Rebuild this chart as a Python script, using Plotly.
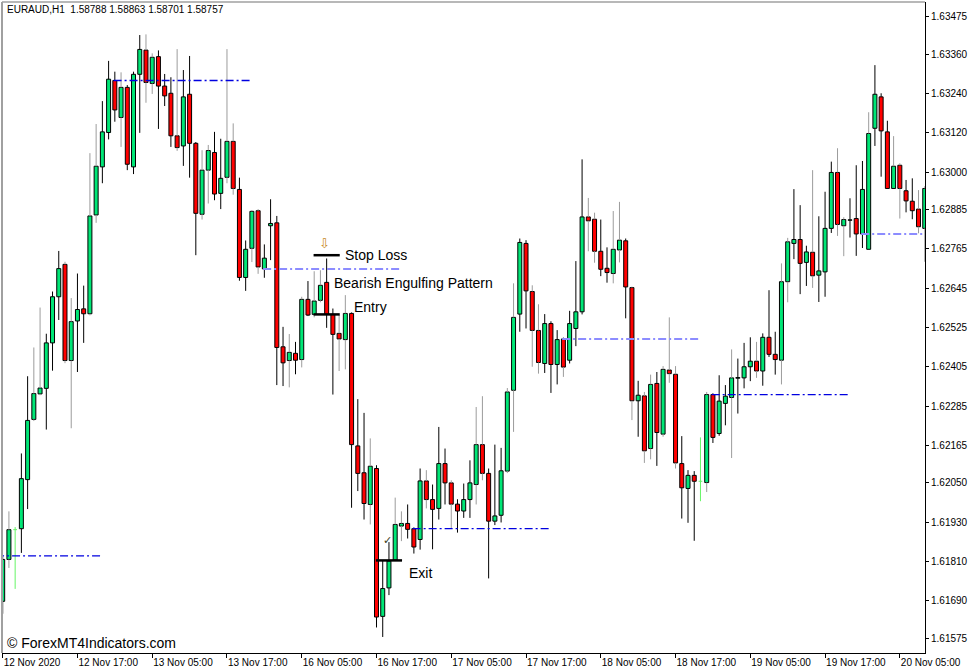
import plotly.graph_objects as go

# ---------------- data (EURAUD H1) ----------------
opens = [1.61688, 1.61816, 1.61907, 1.61910, 1.62060, 1.62244, 1.62322, 1.62339, 1.62478, 1.62619,
         1.62718, 1.62424, 1.62545, 1.62582, 1.62567, 1.62869, 1.63016, 1.63121, 1.63280, 1.63167,
         1.63259, 1.63016, 1.63299, 1.63373, 1.63271, 1.63353, 1.63263, 1.63241, 1.63111, 1.63080,
         1.63238, 1.63088, 1.62871, 1.63006, 1.63060, 1.62935, 1.62984, 1.63094, 1.62947, 1.62678,
         1.62767, 1.62882, 1.62704, 1.62836, 1.62845, 1.62466, 1.62424, 1.62446, 1.62427, 1.62611,
         1.62565, 1.62608, 1.62663, 1.62565, 1.62507, 1.62488, 1.62568, 1.62163, 1.62081, 1.61984,
         1.62094, 1.61642, 1.61729, 1.61814, 1.61918, 1.61926, 1.61910, 1.61877, 1.62056, 1.61999,
         1.61972, 1.62109, 1.62050, 1.61985, 1.61964, 1.61999, 1.62045, 1.62167, 1.62079, 1.61933,
         1.61951, 1.62086, 1.62333, 1.62566, 1.62782, 1.62635, 1.62516, 1.62415, 1.62537, 1.62412,
         1.62490, 1.62425, 1.62522, 1.62573, 1.62863, 1.62856, 1.62758, 1.62706, 1.62690, 1.62762,
         1.62790, 1.62647, 1.62301, 1.62316, 1.62155, 1.62354, 1.62199, 1.62395, 1.62382, 1.62109,
         1.62033, 1.62073, 1.62055, 1.62051, 1.62320, 1.62201, 1.62293, 1.62311, 1.62370, 1.62371,
         1.62405, 1.62422, 1.62392, 1.62495, 1.62443, 1.62425, 1.62665, 1.62782, 1.62794, 1.62724,
         1.62755, 1.62685, 1.62695, 1.62828, 1.62999, 1.62836, 1.62853, 1.62858, 1.62811, 1.62764,
         1.63134, 1.63230, 1.63123, 1.62950, 1.63021, 1.62943, 1.62911, 1.62887, 1.62828]

highs = [1.61823, 1.61963, 1.61915, 1.62140, 1.62376, 1.62464, 1.62586, 1.62506, 1.62635, 1.62759,
         1.62726, 1.62615, 1.62690, 1.62653, 1.63058, 1.63147, 1.63217, 1.63340, 1.63307, 1.63305,
         1.63266, 1.63307, 1.63419, 1.63421, 1.63363, 1.63372, 1.63300, 1.63290, 1.63376, 1.63312,
         1.63355, 1.63092, 1.63067, 1.63083, 1.63123, 1.63102, 1.63376, 1.63149, 1.62983, 1.62791,
         1.62884, 1.62887, 1.62779, 1.62917, 1.62866, 1.62527, 1.62505, 1.62481, 1.62619, 1.62667,
         1.62697, 1.62700, 1.62736, 1.62583, 1.62563, 1.62624, 1.62571, 1.62306, 1.62264, 1.62186,
         1.62104, 1.61814, 1.61869, 1.62005, 1.61963, 1.61984, 1.61914, 1.62094, 1.62089, 1.62045,
         1.62221, 1.62155, 1.62058, 1.62000, 1.62048, 1.62119, 1.62282, 1.62315, 1.62094, 1.62167,
         1.62157, 1.62340, 1.62660, 1.62797, 1.62792, 1.62654, 1.62596, 1.62566, 1.62544, 1.62517,
         1.62496, 1.62576, 1.62728, 1.63039, 1.62921, 1.62876, 1.62855, 1.62770, 1.62881, 1.62909,
         1.62797, 1.62650, 1.62362, 1.62328, 1.62381, 1.62389, 1.62407, 1.62556, 1.62407, 1.62193,
         1.62089, 1.62086, 1.62189, 1.62328, 1.62324, 1.62379, 1.62349, 1.62458, 1.62430, 1.62478,
         1.62495, 1.62481, 1.62507, 1.62639, 1.62512, 1.62721, 1.62799, 1.62948, 1.62899, 1.62775,
         1.63006, 1.62865, 1.62940, 1.63032, 1.63073, 1.62862, 1.62920, 1.63021, 1.63034, 1.63183,
         1.63327, 1.63241, 1.63157, 1.63110, 1.63027, 1.62976, 1.62981, 1.62945, 1.62957]

lows = [1.61650, 1.61790, 1.61726, 1.61836, 1.61970, 1.62239, 1.62318, 1.62213, 1.62393, 1.62548,
        1.62416, 1.62217, 1.62389, 1.62478, 1.62562, 1.62845, 1.62966, 1.63100, 1.63154, 1.63077,
        1.63006, 1.62994, 1.63120, 1.63212, 1.63239, 1.63132, 1.63202, 1.63077, 1.63065, 1.63019,
        1.62983, 1.62746, 1.62855, 1.62904, 1.62914, 1.62887, 1.62966, 1.62931, 1.62668, 1.62637,
        1.62725, 1.62689, 1.62677, 1.62731, 1.62349, 1.62346, 1.62342, 1.62382, 1.62403, 1.62560,
        1.62556, 1.62602, 1.62524, 1.62320, 1.62392, 1.62397, 1.61974, 1.62025, 1.61938, 1.61923,
        1.61608, 1.61579, 1.61707, 1.61811, 1.61872, 1.61880, 1.61834, 1.61846, 1.61972, 1.61847,
        1.61938, 1.61984, 1.61912, 1.61898, 1.61943, 1.61943, 1.61984, 1.62058, 1.61758, 1.61921,
        1.61929, 1.62080, 1.62206, 1.62512, 1.62522, 1.62405, 1.62384, 1.62386, 1.62325, 1.62351,
        1.62374, 1.62415, 1.62468, 1.62565, 1.62758, 1.62723, 1.62682, 1.62662, 1.62660, 1.62724,
        1.62553, 1.62242, 1.62191, 1.62111, 1.62122, 1.62102, 1.62191, 1.62356, 1.62094, 1.61941,
        1.61928, 1.61873, 1.61994, 1.62022, 1.62172, 1.62194, 1.62226, 1.62126, 1.62262, 1.62339,
        1.62361, 1.62371, 1.62347, 1.62435, 1.62381, 1.62351, 1.62602, 1.62734, 1.62627, 1.62652,
        1.62646, 1.62603, 1.62619, 1.62814, 1.62805, 1.62743, 1.62800, 1.62744, 1.62768, 1.62764,
        1.63080, 1.62986, 1.62950, 1.62950, 1.62858, 1.62877, 1.62856, 1.62813, 1.62726]

closes = [1.61816, 1.61907, 1.61907, 1.62063, 1.62241, 1.62323, 1.62340, 1.62478, 1.62619, 1.62705,
          1.62424, 1.62543, 1.62580, 1.62567, 1.62866, 1.63018, 1.63123, 1.63284, 1.63190, 1.63259,
          1.63024, 1.63299, 1.63375, 1.63274, 1.63351, 1.63263, 1.63233, 1.63111, 1.63075, 1.63230,
          1.63088, 1.62874, 1.63006, 1.63066, 1.62933, 1.62981, 1.63094, 1.62950, 1.62678, 1.62764,
          1.62880, 1.62710, 1.62737, 1.62843, 1.62464, 1.62417, 1.62449, 1.62425, 1.62611, 1.62563,
          1.62606, 1.62654, 1.62565, 1.62504, 1.62490, 1.62568, 1.62167, 1.62079, 1.61987, 1.62101,
          1.61640, 1.61727, 1.61811, 1.61923, 1.61926, 1.61908, 1.61854, 1.62056, 1.61999, 1.61969,
          1.62109, 1.62050, 1.61985, 1.61964, 1.61999, 1.62050, 1.62167, 1.62079, 1.61933, 1.61949,
          1.62087, 1.62328, 1.62556, 1.62785, 1.62637, 1.62516, 1.62418, 1.62537, 1.62412, 1.62488,
          1.62404, 1.62537, 1.62573, 1.62863, 1.62851, 1.62758, 1.62703, 1.62693, 1.62764, 1.62792,
          1.62649, 1.62301, 1.62318, 1.62148, 1.62351, 1.62204, 1.62397, 1.62384, 1.62111, 1.62035,
          1.62073, 1.62055, 1.62055, 1.62320, 1.62189, 1.62300, 1.62315, 1.62371, 1.62372, 1.62405,
          1.62422, 1.62392, 1.62495, 1.62443, 1.62427, 1.62665, 1.62787, 1.62794, 1.62721, 1.62756,
          1.62683, 1.62698, 1.62828, 1.62999, 1.62840, 1.62855, 1.62854, 1.62811, 1.62947, 1.63118,
          1.63238, 1.63126, 1.62950, 1.63018, 1.62950, 1.62912, 1.62882, 1.62833, 1.62950]

# tick labels
x_tick_bars = [0, 12, 24, 36, 48, 60, 72, 84, 96, 108, 120, 132, 144]
x_tick_labels = ["12 Nov 2020", "12 Nov 17:00", "13 Nov 05:00", "13 Nov 17:00", "16 Nov 05:00",
                 "16 Nov 17:00", "17 Nov 05:00", "17 Nov 17:00", "18 Nov 05:00", "18 Nov 17:00",
                 "19 Nov 05:00", "19 Nov 17:00", "20 Nov 05:00"]
y_tick_values = [1.63475, 1.63360, 1.63240, 1.63120, 1.63000, 1.62885, 1.62765, 1.62645, 1.62525,
                 1.62405, 1.62285, 1.62165, 1.62050, 1.61930, 1.61810, 1.61690, 1.61575]

# indicator levels (start bar, price)
level_bars = [-6, 18, 42, 66, 90, 114, 138]
level_prices = [1.61827, 1.63280, 1.62704, 1.61910, 1.62490, 1.62320, 1.62811]
level_light = [False, False, True, False, True, False, True]
level_length = 22

# trade annotation
signal_bar = 52
exit_bar = 62
stop_price = 1.62746
entry_price = 1.62565
exit_price = 1.61813

# wick tone per candle (k = black, g = grey) - style
wick_tone = ("kgkkkggkkk" "ggkkggkkkg" "kkkggkkkgk" "kkggkkggkk" "ggkkkkgkgk"
             "ggkkggkkkg" "kkkggkkkgk" "kkgkkkggkk" "kggkkggkkk" "gkkkggkkgg"
             "kgkggkgggk" "kkkgkkkgkk" "kgkkkggkkk" "gkkkggkkkg" "kkkggkkgg")

# ---------------- styling ----------------
GREEN = "#00E676"
RED = "#FF0000"
DOJI = "#66F566"
FONT = "Liberation Sans, Arial, sans-serif"

n = len(opens)
idx = list(range(n))
fig = go.Figure()

# bodies (bars are drawn in a layer beneath the wick lines)
for up in (True, False):
    sel = [i for i in idx if opens[i] != closes[i] and (closes[i] > opens[i]) == up]
    fig.add_trace(go.Bar(
        x=sel,
        base=[min(opens[i], closes[i]) for i in sel],
        y=[abs(closes[i] - opens[i]) for i in sel],
        width=0.64,
        marker=dict(color=GREEN if up else RED, line=dict(color="black", width=1)),
        hoverinfo="skip", showlegend=False))

# wicks: only outside the body so they never cover it
for tone, color in (("k", "#000000"), ("g", "#9C9C9C")):
    xs, ys = [], []
    for i in idx:
        if opens[i] == closes[i] or wick_tone[i] != tone:
            continue
        top = max(opens[i], closes[i])
        bot = min(opens[i], closes[i])
        if highs[i] > top:
            xs += [i, i, None]
            ys += [top, highs[i], None]
        if lows[i] < bot:
            xs += [i, i, None]
            ys += [lows[i], bot, None]
    fig.add_trace(go.Scatter(x=xs, y=ys, mode="lines", line=dict(color=color, width=1),
                             hoverinfo="skip", showlegend=False))

# doji candles (open == close)
dx, dy = [], []
for i in idx:
    if opens[i] == closes[i]:
        dx += [i, i, None, i - 0.3, i + 0.3, None]
        dy += [lows[i], highs[i], None, opens[i], opens[i], None]
fig.add_trace(go.Scatter(x=dx, y=dy, mode="lines", line=dict(color=DOJI, width=1),
                         hoverinfo="skip", showlegend=False))

shapes = []
# level lines (dash-dot)
for b, p, light in zip(level_bars, level_prices, level_light):
    shapes.append(dict(type="line", xref="x", yref="y", x0=b - 0.2, x1=b + level_length, y0=p, y1=p,
                       line=dict(color="#8C8CFF" if light else "#0000E0", width=2 if light else 1.3,
                                 dash="8px,3px,2px,3px")))
# stop / entry / exit markers
for bar, price in ((signal_bar, stop_price), (signal_bar, entry_price), (exit_bar, exit_price)):
    shapes.append(dict(type="line", xref="x", yref="y", x0=bar - 2.1, x1=bar + 2.1, y0=price, y1=price,
                       line=dict(color="black", width=2.5)))
# chart frame (grey left/top)
shapes.append(dict(type="line", xref="paper", yref="paper", x0=0, x1=0, y0=0, y1=1,
                   line=dict(color="#A0A0A0", width=2)))
shapes.append(dict(type="line", xref="paper", yref="paper", x0=0, x1=1, y0=1, y1=1,
                   line=dict(color="#A0A0A0", width=1.5)))

annotations = [
    dict(x=signal_bar + 2.6, y=stop_price, xref="x", yref="y", text="Stop Loss", showarrow=False,
         xanchor="left", yanchor="middle", font=dict(family=FONT, size=14, color="black")),
    dict(x=signal_bar + 0.9, y=stop_price - 0.00086, xref="x", yref="y", text="Bearish Engulfing Pattern",
         showarrow=False, xanchor="left", yanchor="middle", font=dict(family=FONT, size=14, color="black")),
    dict(x=signal_bar + 4.1, y=entry_price + 0.00024, xref="x", yref="y", text="Entry", showarrow=False,
         xanchor="left", yanchor="middle", font=dict(family=FONT, size=14, color="black")),
    dict(x=exit_bar + 2.9, y=exit_price - 0.00039, xref="x", yref="y", text="Exit", showarrow=False,
         xanchor="left", yanchor="middle", font=dict(family=FONT, size=14, color="black")),
    dict(x=signal_bar - 0.3, y=stop_price + 0.00036, xref="x", yref="y", text="⇩", showarrow=False,
         xanchor="center", yanchor="middle", font=dict(family="DejaVu Sans", size=13, color="#C88A1E")),
    dict(x=exit_bar - 0.3, y=exit_price + 0.00062, xref="x", yref="y", text="✓", showarrow=False,
         xanchor="center", yanchor="middle", font=dict(family="DejaVu Sans", size=11, color="#404020")),
    dict(x=0.003, y=0.988, xref="paper", yref="paper",
         text="EURAUD,H1  1.58788 1.58863 1.58701 1.58757", showarrow=False,
         xanchor="left", yanchor="middle", font=dict(family=FONT, size=10, color="black")),
    dict(x=0.003, y=0.016, xref="paper", yref="paper", text="© ForexMT4Indicators.com", showarrow=False,
         xanchor="left", yanchor="middle", font=dict(family=FONT, size=14, color="black")),
]

fig.update_layout(
    width=977, height=672,
    margin=dict(l=2, r=52, t=2, b=19),
    paper_bgcolor="white", plot_bgcolor="white",
    barmode="overlay",
    showlegend=False,
    font=dict(family=FONT, size=10, color="black"),
    shapes=shapes, annotations=annotations,
    xaxis=dict(range=[-0.11, 148.04], tickmode="array", tickvals=x_tick_bars, ticktext=x_tick_labels,
               ticks="outside", ticklen=4, tickcolor="black", showline=True, linecolor="black",
               linewidth=1, showgrid=False, zeroline=False, ticklabelposition="outside right",
               tickfont=dict(family=FONT, size=10, color="black"), fixedrange=True, automargin=False),
    yaxis=dict(side="right", range=[1.61530, 1.63520], tickmode="array", tickvals=y_tick_values,
               ticktext=[f"{v:.5f}" for v in y_tick_values], ticks="outside", ticklen=3,
               tickcolor="black", showline=True, linecolor="black", linewidth=1, showgrid=False,
               zeroline=False, tickfont=dict(family=FONT, size=10, color="black"), fixedrange=True,
               automargin=False),
)

fig.write_html("out.html", config={"displayModeBar": False},
               post_script="document.body.style.margin='0px';document.body.style.padding='0px';")
